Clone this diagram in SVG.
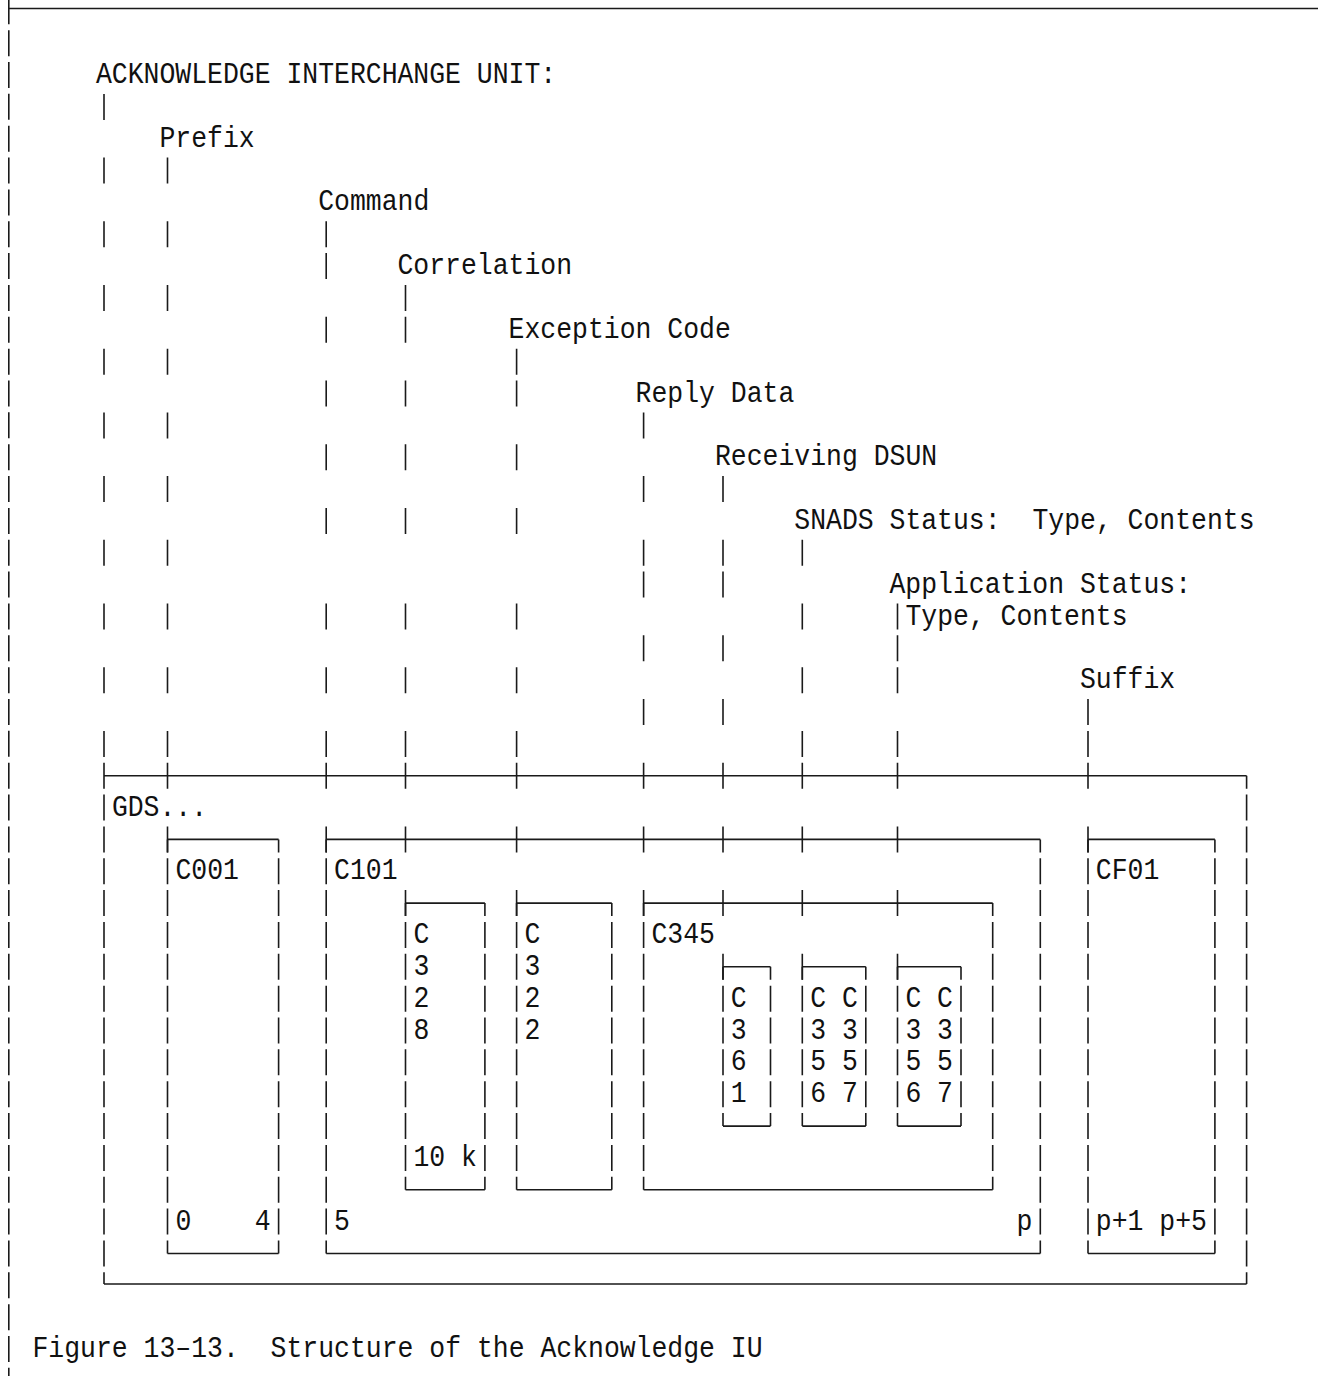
<svg xmlns="http://www.w3.org/2000/svg" width="1318" height="1376" viewBox="0 0 1318 1376">
<style>
.t{font-family:"Liberation Mono","DejaVu Sans Mono",monospace;font-size:30px;fill:#111;white-space:pre}
.l{stroke:#1a1a1a;stroke-width:1.6;fill:none}
.d{stroke-dasharray:26 5.85}
.c{stroke-dasharray:26 5.85;stroke-dashoffset:13}
.o{stroke-dasharray:26 37.7}
</style>
<rect width="1318" height="1376" fill="#fff"/>
<g id="frame">
<line class="l" x1="8.8" y1="8.5" x2="1318" y2="8.5"/>
<line class="l d" x1="8.8" y1="-1.7" x2="8.8" y2="1376"/>
</g>
<g id="connectors">
<line class="l o" x1="104" y1="93.9" x2="104" y2="756.9"/>
<line class="l o" x1="167.5" y1="157.6" x2="167.5" y2="756.9"/>
<path class="l" d="M167.5 762.7V788.7M167.5 826.4V852.4"/>
<path class="l" d="M326.2 221.3V247.3M326.2 253.1V279.1M326.2 316.8V342.8M326.2 380.5V406.5M326.2 444.2V470.2M326.2 507.9V533.9M326.2 603.5V629.5M326.2 667.2V693.2M326.2 730.9V756.9M326.2 762.7V788.7M326.2 826.4V852.4"/>
<path class="l" d="M405.5 285V311M405.5 316.8V342.8M405.5 380.5V406.5M405.5 444.2V470.2M405.5 507.9V533.9M405.5 603.5V629.5M405.5 667.2V693.2M405.5 730.9V756.9M405.5 762.7V788.7M405.5 826.4V852.4M405.5 890.1V916.1"/>
<path class="l" d="M516.6 348.7V374.7M516.6 380.5V406.5M516.6 444.2V470.2M516.6 507.9V533.9M516.6 603.5V629.5M516.6 667.2V693.2M516.6 730.9V756.9M516.6 762.7V788.7M516.6 826.4V852.4M516.6 890.1V916.1"/>
<path class="l" d="M643.6 412.4V438.4M643.6 476.1V502.1M643.6 539.8V565.8M643.6 571.6V597.6M643.6 635.3V661.3M643.6 699V725M643.6 762.7V788.7M643.6 826.4V852.4M643.6 890.1V916.1"/>
<path class="l" d="M723 476.1V502.1M723 539.8V565.8M723 571.6V597.6M723 635.3V661.3M723 699V725M723 762.7V788.7M723 826.4V852.4M723 890.1V916.1M723 953.8V979.8"/>
<path class="l" d="M802.3 539.8V565.8M802.3 603.5V629.5M802.3 667.2V693.2M802.3 730.9V756.9M802.3 762.7V788.7M802.3 826.4V852.4M802.3 890.1V916.1M802.3 953.8V979.8"/>
<path class="l" d="M897.5 603.5V629.5M897.5 635.3V661.3M897.5 667.2V693.2M897.5 730.9V756.9M897.5 762.7V788.7M897.5 826.4V852.4M897.5 890.1V916.1M897.5 953.8V979.8"/>
<path class="l" d="M1088 699V725M1088 730.9V756.9M1088 762.7V788.7M1088 826.4V852.4"/>
</g>
<g id="label-title"><text class="t" x="96" y="83" textLength="460.2" lengthAdjust="spacingAndGlyphs">ACKNOWLEDGE INTERCHANGE UNIT:</text></g>
<g id="label-prefix"><text class="t" x="159.5" y="146.7" textLength="95.2" lengthAdjust="spacingAndGlyphs">Prefix</text></g>
<g id="label-command"><text class="t" x="318.2" y="210.4" textLength="111.1" lengthAdjust="spacingAndGlyphs">Command</text></g>
<g id="label-correlation"><text class="t" x="397.5" y="274.1" textLength="174.6" lengthAdjust="spacingAndGlyphs">Correlation</text></g>
<g id="label-exception"><text class="t" x="508.6" y="337.8" textLength="222.2" lengthAdjust="spacingAndGlyphs">Exception Code</text></g>
<g id="label-reply"><text class="t" x="635.6" y="401.5" textLength="158.7" lengthAdjust="spacingAndGlyphs">Reply Data</text></g>
<g id="label-dsun"><text class="t" x="715" y="465.2" textLength="222.2" lengthAdjust="spacingAndGlyphs">Receiving DSUN</text></g>
<g id="label-snads"><text class="t" x="794.3" y="528.9" textLength="206.3" lengthAdjust="spacingAndGlyphs">SNADS Status:</text><text class="t" x="1032.4" y="528.9" textLength="222.2" lengthAdjust="spacingAndGlyphs">Type, Contents</text></g>
<g id="label-application"><text class="t" x="889.5" y="592.6" textLength="301.5" lengthAdjust="spacingAndGlyphs">Application Status:</text><text class="t" x="905.4" y="624.5" textLength="222.2" lengthAdjust="spacingAndGlyphs">Type, Contents</text></g>
<g id="label-suffix"><text class="t" x="1080" y="688.2" textLength="95.2" lengthAdjust="spacingAndGlyphs">Suffix</text></g>
<g id="box-gds">
<path class="l" d="M104 775.7H1246.6M104 1284H1246.6"/>
<line class="l d" x1="104" y1="762.7" x2="104" y2="1284"/>
<line class="l c" x1="1246.6" y1="775.7" x2="1246.6" y2="1284"/>
<text class="t" x="111.9" y="815.6" textLength="95.2" lengthAdjust="spacingAndGlyphs">GDS...</text>
</g>
<g id="box-c001">
<path class="l" d="M167.5 839.4H278.6M167.5 1253.5H278.6"/>
<line class="l c" x1="167.5" y1="839.4" x2="167.5" y2="1253.5"/>
<line class="l c" x1="278.6" y1="839.4" x2="278.6" y2="1253.5"/>
<text class="t" x="175.4" y="879.3" textLength="63.5" lengthAdjust="spacingAndGlyphs">C001</text>
<text class="t" x="175.4" y="1229.6" textLength="15.9" lengthAdjust="spacingAndGlyphs">0</text>
<text class="t" x="254.7" y="1229.6" textLength="15.9" lengthAdjust="spacingAndGlyphs">4</text>
</g>
<g id="box-c101">
<path class="l" d="M326.2 839.4H1040.3M326.2 1253.5H1040.3"/>
<line class="l c" x1="326.2" y1="839.4" x2="326.2" y2="1253.5"/>
<line class="l c" x1="1040.3" y1="839.4" x2="1040.3" y2="1253.5"/>
<text class="t" x="334.1" y="879.3" textLength="63.5" lengthAdjust="spacingAndGlyphs">C101</text>
<text class="t" x="334.1" y="1229.6" textLength="15.9" lengthAdjust="spacingAndGlyphs">5</text>
<text class="t" x="1016.5" y="1229.6" textLength="15.9" lengthAdjust="spacingAndGlyphs">p</text>
</g>
<g id="box-c328">
<path class="l" d="M405.5 903.1H484.9M405.5 1189.8H484.9"/>
<line class="l c" x1="405.5" y1="903.1" x2="405.5" y2="1189.8"/>
<line class="l c" x1="484.9" y1="903.1" x2="484.9" y2="1189.8"/>
<text class="t" x="413.4" y="943" textLength="15.9" lengthAdjust="spacingAndGlyphs">C</text>
<text class="t" x="413.4" y="974.8" textLength="15.9" lengthAdjust="spacingAndGlyphs">3</text>
<text class="t" x="413.4" y="1006.7" textLength="15.9" lengthAdjust="spacingAndGlyphs">2</text>
<text class="t" x="413.4" y="1038.5" textLength="15.9" lengthAdjust="spacingAndGlyphs">8</text>
<text class="t" x="413.4" y="1165.9" textLength="63.5" lengthAdjust="spacingAndGlyphs">10 k</text>
</g>
<g id="box-c322">
<path class="l" d="M516.6 903.1H611.8M516.6 1189.8H611.8"/>
<line class="l c" x1="516.6" y1="903.1" x2="516.6" y2="1189.8"/>
<line class="l c" x1="611.8" y1="903.1" x2="611.8" y2="1189.8"/>
<text class="t" x="524.5" y="943" textLength="15.9" lengthAdjust="spacingAndGlyphs">C</text>
<text class="t" x="524.5" y="974.8" textLength="15.9" lengthAdjust="spacingAndGlyphs">3</text>
<text class="t" x="524.5" y="1006.7" textLength="15.9" lengthAdjust="spacingAndGlyphs">2</text>
<text class="t" x="524.5" y="1038.5" textLength="15.9" lengthAdjust="spacingAndGlyphs">2</text>
</g>
<g id="box-c345">
<path class="l" d="M643.6 903.1H992.7M643.6 1189.8H992.7"/>
<line class="l c" x1="643.6" y1="903.1" x2="643.6" y2="1189.8"/>
<line class="l c" x1="992.7" y1="903.1" x2="992.7" y2="1189.8"/>
<text class="t" x="651.5" y="943" textLength="63.5" lengthAdjust="spacingAndGlyphs">C345</text>
</g>
<g id="box-c361">
<path class="l" d="M723 966.8H770.5M723 1126.1H770.5"/>
<line class="l c" x1="723" y1="966.8" x2="723" y2="1126.1"/>
<line class="l c" x1="770.5" y1="966.8" x2="770.5" y2="1126.1"/>
<text class="t" x="730.8" y="1006.7" textLength="15.9" lengthAdjust="spacingAndGlyphs">C</text>
<text class="t" x="730.8" y="1038.5" textLength="15.9" lengthAdjust="spacingAndGlyphs">3</text>
<text class="t" x="730.8" y="1070.4" textLength="15.9" lengthAdjust="spacingAndGlyphs">6</text>
<text class="t" x="730.8" y="1102.2" textLength="15.9" lengthAdjust="spacingAndGlyphs">1</text>
</g>
<g id="box-c356-c357-a">
<path class="l" d="M802.3 966.8H865.8M802.3 1126.1H865.8"/>
<line class="l c" x1="802.3" y1="966.8" x2="802.3" y2="1126.1"/>
<line class="l c" x1="865.8" y1="966.8" x2="865.8" y2="1126.1"/>
<text class="t" x="810.2" y="1006.7" textLength="47.6" lengthAdjust="spacingAndGlyphs">C C</text>
<text class="t" x="810.2" y="1038.5" textLength="47.6" lengthAdjust="spacingAndGlyphs">3 3</text>
<text class="t" x="810.2" y="1070.4" textLength="47.6" lengthAdjust="spacingAndGlyphs">5 5</text>
<text class="t" x="810.2" y="1102.2" textLength="47.6" lengthAdjust="spacingAndGlyphs">6 7</text>
</g>
<g id="box-c356-c357-b">
<path class="l" d="M897.5 966.8H961M897.5 1126.1H961"/>
<line class="l c" x1="897.5" y1="966.8" x2="897.5" y2="1126.1"/>
<line class="l c" x1="961" y1="966.8" x2="961" y2="1126.1"/>
<text class="t" x="905.4" y="1006.7" textLength="47.6" lengthAdjust="spacingAndGlyphs">C C</text>
<text class="t" x="905.4" y="1038.5" textLength="47.6" lengthAdjust="spacingAndGlyphs">3 3</text>
<text class="t" x="905.4" y="1070.4" textLength="47.6" lengthAdjust="spacingAndGlyphs">5 5</text>
<text class="t" x="905.4" y="1102.2" textLength="47.6" lengthAdjust="spacingAndGlyphs">6 7</text>
</g>
<g id="box-cf01">
<path class="l" d="M1088 839.4H1214.9M1088 1253.5H1214.9"/>
<line class="l c" x1="1088" y1="839.4" x2="1088" y2="1253.5"/>
<line class="l c" x1="1214.9" y1="839.4" x2="1214.9" y2="1253.5"/>
<text class="t" x="1095.8" y="879.3" textLength="63.5" lengthAdjust="spacingAndGlyphs">CF01</text>
<text class="t" x="1095.8" y="1229.6" textLength="111.1" lengthAdjust="spacingAndGlyphs">p+1 p+5</text>
</g>
<g id="caption"><text class="t" x="32.5" y="1357" textLength="206.3" lengthAdjust="spacingAndGlyphs">Figure 13–13.</text><text class="t" x="270.6" y="1357" textLength="492" lengthAdjust="spacingAndGlyphs">Structure of the Acknowledge IU</text></g>
</svg>
